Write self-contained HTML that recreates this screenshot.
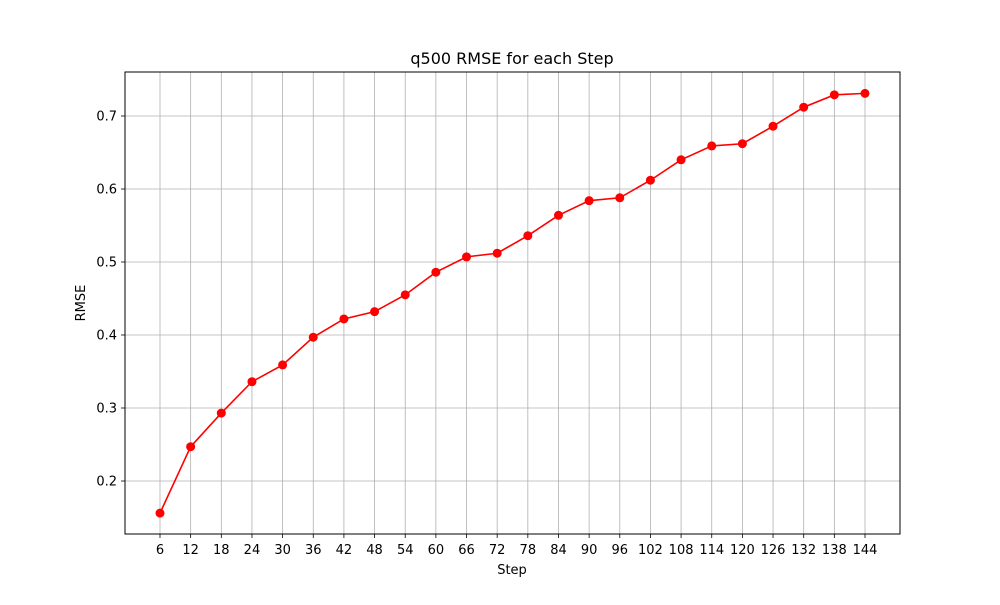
<!DOCTYPE html>
<html><head><meta charset="utf-8"><style>
body{margin:0;background:#fff}
svg text{font-family:"DejaVu Sans","Liberation Sans",sans-serif;fill:#000}
</style></head><body>
<svg id="chart" width="1000" height="600" xmlns="http://www.w3.org/2000/svg">
<rect x="0" y="0" width="1000" height="600" fill="#fff"/>
<g id="grid"></g>
<rect x="125" y="72" width="775" height="462" fill="none" stroke="#000" stroke-width="1"/>
<g id="ticks"></g>
<g id="series"></g>
<text x="512" y="64" font-size="16" text-anchor="middle">q500 RMSE for each Step</text>
<text x="512" y="574" font-size="13" text-anchor="middle">Step</text>
<text x="85" y="303" font-size="13" text-anchor="middle" transform="rotate(-90 85 303)">RMSE</text>
</svg>
<script>
const steps=[6,12,18,24,30,36,42,48,54,60,66,72,78,84,90,96,102,108,114,120,126,132,138,144];
const rmse=[0.156,0.247,0.293,0.336,0.359,0.397,0.422,0.432,0.455,0.486,0.507,0.512,0.536,0.564,0.584,0.588,0.612,0.640,0.659,0.662,0.686,0.712,0.729,0.731];
const yTicks=[0.2,0.3,0.4,0.5,0.6,0.7];
const NS="http://www.w3.org/2000/svg";
function xs(v){return 160+(v-6)*(705/138);}
function ys(v){return 481-(v-0.2)*730;}
function mk(tag,attrs,parent){const e=document.createElementNS(NS,tag);for(const k in attrs)e.setAttribute(k,attrs[k]);document.getElementById(parent).appendChild(e);return e;}
steps.forEach(s=>{
  const g=mk('line',{x1:xs(s),x2:xs(s),y1:72,y2:534,stroke:'#b0b0b0','stroke-width':0.8},'grid');
  
  
  const t=mk('line',{x1:xs(s),x2:xs(s),y1:534,y2:538,stroke:'#000','stroke-width':0.8},'ticks');
  
  
  const l=mk('text',{x:xs(s),y:554,'font-size':13,'text-anchor':'middle'},'ticks');
  l.textContent=s;
  
  
});
yTicks.forEach(v=>{
  const g=mk('line',{x1:125,x2:900,y1:ys(v),y2:ys(v),stroke:'#b0b0b0','stroke-width':0.8},'grid');
  
  
  const t=mk('line',{x1:121,x2:125,y1:ys(v),y2:ys(v),stroke:'#000','stroke-width':0.8},'ticks');
  
  
  const l=mk('text',{x:117,y:ys(v)+4.5,'font-size':13,'text-anchor':'end'},'ticks');
  l.textContent=v.toFixed(1);
  
  
});
const pts=steps.map((s,i)=>xs(s)+','+ys(rmse[i])).join(' ');
const line=mk('polyline',{points:pts,fill:'none',stroke:'#ff0000','stroke-width':1.6},'series');


steps.forEach((s,i)=>{
  const c=mk('circle',{cx:xs(s),cy:ys(rmse[i]),r:4.5,fill:'#ff0000'},'series');
  
  
});
</script>
</body></html>
